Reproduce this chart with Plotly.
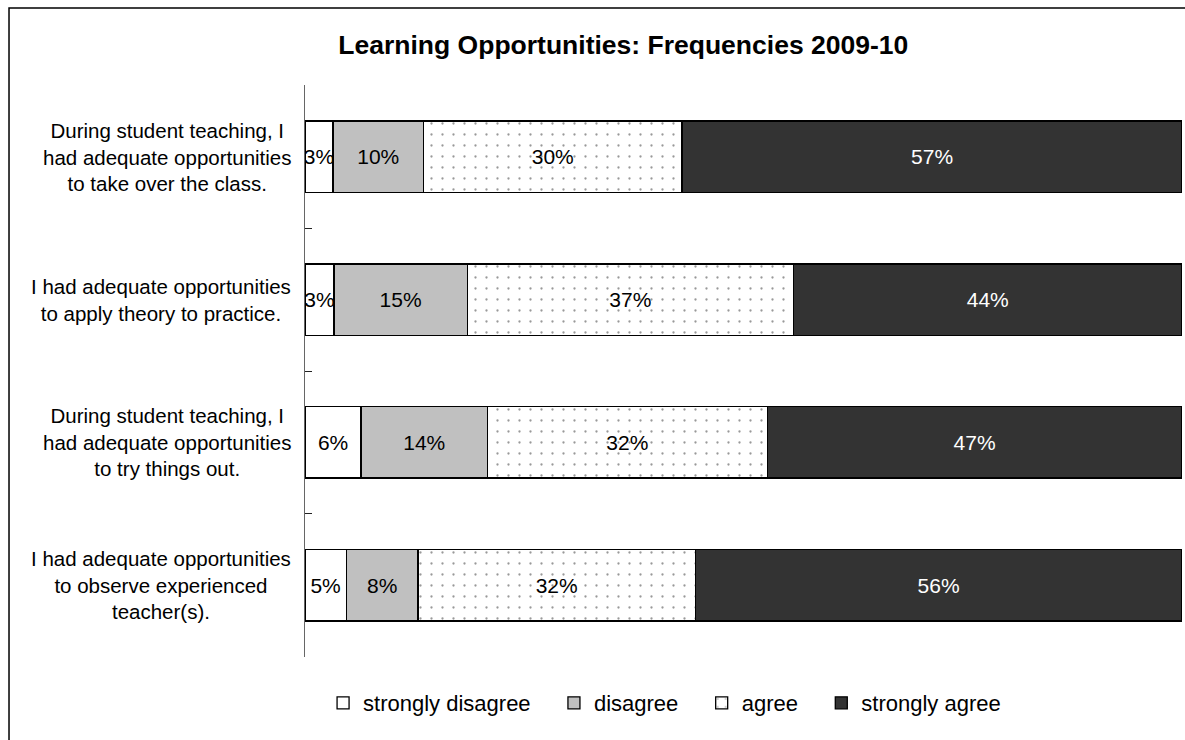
import plotly.graph_objects as go

questions = [
    "During student teaching, I<br>had adequate opportunities<br>to take over the class.",
    "I had adequate opportunities<br>to apply theory to practice.",
    "During student teaching, I<br>had adequate opportunities<br>to try things out.",
    "I had adequate opportunities<br>to observe experienced<br>teacher(s).",
]
response_levels = ["strongly disagree", "disagree", "agree", "strongly agree"]
strongly_disagree = [3.2, 3.3, 6.4, 4.7]
disagree = [10.3, 15.2, 14.4, 8.2]
agree = [29.5, 37.2, 31.9, 31.6]
strongly_agree = [57.0, 44.3, 47.3, 55.5]

FONT = "Arial, Liberation Sans, sans-serif"
PAD = "\u00a0" * 3  # widen gaps between legend entries

styles = [
    (dict(color="white"), "black"),
    (dict(color="#c0c0c0"), "black"),
    (dict(color="white", pattern=dict(shape=".", fgcolor="#333333", bgcolor="white",
                                      size=11, solidity=0.035)), "black"),
    (dict(color="#333333"), "white"),
]

fig = go.Figure()
for i, (name, vals) in enumerate(zip(response_levels,
                                     [strongly_disagree, disagree, agree, strongly_agree])):
    marker, tcol = styles[i]
    fig.add_trace(go.Bar(
        y=questions, x=vals, name=name + (PAD if i < 3 else ""), orientation="h",
        marker=dict(line=dict(color="black", width=1.3), **marker),
        text=vals, texttemplate="%{x:.0f}%", textposition="inside",
        insidetextanchor="middle", constraintext="none", textangle=0,
        textfont=dict(color=tcol, size=21, family=FONT),
        width=0.5,
    ))

for q in questions:
    fig.add_annotation(
        x=-0.014, xref="paper", y=q, yref="y", text=q, showarrow=False,
        xanchor="right", align="center", font=dict(size=20.5, color="black", family=FONT),
    )

# outer chart border
fig.add_shape(type="rect", xref="paper", yref="paper",
              x0=-0.3375, x1=1.02, y0=-0.15, y1=1.1346,
              line=dict(color="black", width=1.5), layer="above")

fig.update_layout(
    barmode="stack",
    width=1185, height=740,
    font=dict(family=FONT, size=20, color="black"),
    paper_bgcolor="white", plot_bgcolor="white",
    margin=dict(l=305, r=3, t=85, b=83),
    uniformtext=dict(minsize=21, mode="show"),
    title=dict(text="<b>Learning Opportunities: Frequencies 2009-10</b>",
               x=0.526, xanchor="center", y=0.939, yanchor="middle",
               font=dict(size=26.5, family=FONT, color="black")),
    legend=dict(orientation="h", x=0.41, xanchor="center", y=-0.0804, yanchor="middle",
                font=dict(size=22, family=FONT), traceorder="normal", itemwidth=30),
    showlegend=True,
)
fig.update_xaxes(range=[0, 100], visible=False)
fig.update_yaxes(range=[3.502, -0.502], showticklabels=False, showline=True,
                 linecolor="#666666", linewidth=1, ticks="inside", ticklen=7,
                 tickcolor="#222222", tickwidth=1, showgrid=False,
                 tickmode="array", tickvals=[-0.5, 0.5, 1.5, 2.5, 3.5])

fig.write_html("out.html", config={"displayModeBar": False},
               post_script="document.body.style.margin='0';")
